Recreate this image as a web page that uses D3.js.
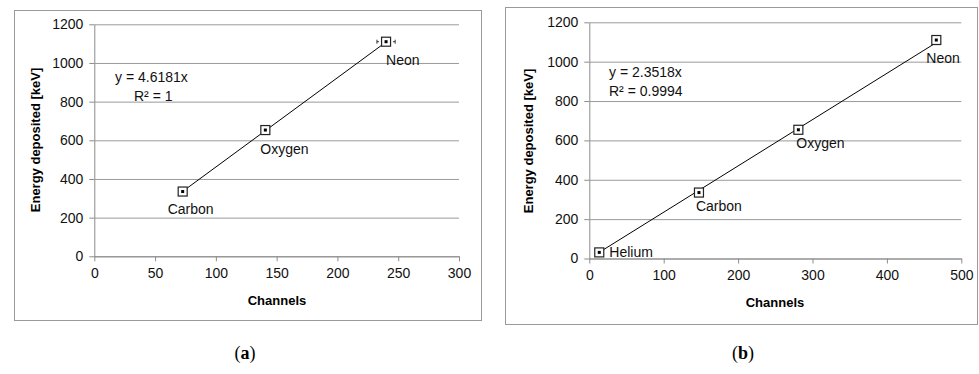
<!DOCTYPE html>
<html>
<head>
<meta charset="utf-8">
<script src="https://cdn.jsdelivr.net/npm/d3@7"></script>
<style>
  body { margin: 0; background: #fff; }
  svg { display: block; font-family: "Liberation Sans", Arial, sans-serif; }
</style>
</head>
<body>
<svg id="chart" width="979" height="374"></svg>
<script>
// donnees
const ionsA = ['Carbon', 'Oxygen', 'Neon'];
const channelsA = [72.7, 140.7, 240];
const energyA = [335, 653, 1110];
const slopeA = 4.6181;
const fitTextA = ['y = 4.6181x', 'R² = 1'];
const xTicksA = [0, 50, 100, 150, 200, 250, 300];

const ionsB = ['Helium', 'Carbon', 'Oxygen', 'Neon'];
const channelsB = [13.4, 147.4, 281, 466.4];
const energyB = [31, 335, 654, 1110];
const slopeB = 2.3518;
const fitTextB = ['y = 2.3518x', 'R² = 0.9994'];
const xTicksB = [0, 100, 200, 300, 400, 500];

const yTicks = [0, 200, 400, 600, 800, 1000, 1200];

const svg = d3.select('#chart');
const FONT = '"Liberation Sans", Arial, sans-serif';

function drawPanel(p) {
    const g = svg.append('g');

    // cadre
    g.append('rect')
        .attr('x', p.frame[0] + 0.5).attr('y', p.frame[1] + 0.5)
        .attr('width', p.frame[2]).attr('height', p.frame[3])
        .attr('fill', '#fff').attr('stroke', '#9a9a9a').attr('stroke-width', 1);

    const x = d3.scaleLinear().domain([p.xTicks[0], p.xTicks[p.xTicks.length - 1]]).range([p.left, p.right]);
    const y = d3.scaleLinear().domain([0, 1200]).range([p.bottom, p.top]);

    // grille horizontale + axe Y
    const yAxis = g.append('g')
        .attr('transform', `translate(${p.left},0)`)
        .call(d3.axisLeft(y).tickValues(yTicks).tickFormat(d3.format('d'))
            .tickSize(5).tickSizeOuter(0).tickPadding(6));
    yAxis.select('.domain').attr('stroke', '#8c8c8c');
    yAxis.selectAll('.tick line').attr('stroke', '#8c8c8c');
    yAxis.selectAll('.tick')
        .append('line')
        .attr('x1', 0).attr('x2', p.right - p.left)
        .attr('stroke', '#9a9a9a');
    yAxis.selectAll('text').style('font-family', FONT).style('font-size', '14px').style('fill', '#111');

    const xAxis = g.append('g')
        .attr('transform', `translate(0,${p.bottom})`)
        .call(d3.axisBottom(x).tickValues(p.xTicks).tickFormat(d3.format('d'))
            .tickSize(5).tickSizeOuter(0).tickPadding(7));
    xAxis.select('.domain').attr('stroke', '#8c8c8c');
    xAxis.selectAll('.tick line').attr('stroke', '#8c8c8c');
    xAxis.selectAll('text').style('font-family', FONT).style('font-size', '14px').style('fill', '#111');

    // titres
    g.append('text')
        .attr('x', p.xTitle[0]).attr('y', p.xTitle[1])
        .attr('text-anchor', 'middle')
        .style('font-size', '13px').style('font-weight', 'bold')
        .text('Channels');

    g.append('text')
        .attr('transform', `translate(${p.yTitle[0]},${p.yTitle[1]}) rotate(-90)`)
        .attr('text-anchor', 'middle')
        .style('font-size', '13px').style('font-weight', 'bold')
        .text('Energy deposited [keV]');

    // droite de regression
    const xs = d3.extent(p.channels);
    g.append('line')
        .attr('x1', x(xs[0])).attr('y1', y(p.slope * xs[0]))
        .attr('x2', x(xs[1])).attr('y2', y(p.slope * xs[1]))
        .attr('stroke', '#000').attr('stroke-width', 1);

    const pts = p.ions.map((ion, i) => ({ ion, c: p.channels[i], e: p.energy[i], off: p.labelOffsets[i] }));

    // barre d'erreur (Neon, panneau a)
    if (p.errBar) {
        const d = pts[pts.length - 1];
        g.append('line')
            .attr('x1', x(d.c - p.errBar)).attr('x2', x(d.c + p.errBar))
            .attr('y1', y(d.e)).attr('y2', y(d.e))
            .attr('stroke', '#333').attr('stroke-dasharray', '2,2');
        [-1, 1].forEach(s => {
            g.append('line')
                .attr('x1', x(d.c + s * p.errBar)).attr('x2', x(d.c + s * p.errBar))
                .attr('y1', y(d.e) - 2).attr('y2', y(d.e) + 2)
                .attr('stroke', '#333');
        });
    }

    // marqueurs
    const m = g.selectAll('.pt').data(pts).enter().append('g')
        .attr('transform', d => `translate(${x(d.c)},${y(d.e)})`);
    m.append('rect')
        .attr('x', -4.5).attr('y', -4.5).attr('width', 9).attr('height', 9)
        .attr('fill', '#fff').attr('stroke', '#222').attr('stroke-width', 1.2);
    m.append('rect')
        .attr('x', -1.5).attr('y', -1.5).attr('width', 3).attr('height', 3)
        .attr('fill', '#000');

    // etiquettes
    g.selectAll('.lbl').data(pts).enter().append('text')
        .attr('x', d => x(d.c) + d.off[0])
        .attr('y', d => y(d.e) + d.off[1])
        .attr('dy', '0.35em')
        .style('font-size', '14px').style('fill', '#111')
        .text(d => d.ion);

    // equation
    g.selectAll('.fit').data(p.fitText).enter().append('text')
        .attr('x', (d, i) => p.fitPos[i][0])
        .attr('y', (d, i) => p.fitPos[i][1])
        .attr('dy', '0.35em')
        .style('font-size', '14px').style('fill', '#111')
        .text(d => d);

    // legende (a)/(b)
    const cap = svg.append('text')
        .attr('x', p.caption[0]).attr('y', p.caption[1])
        .attr('text-anchor', 'middle')
        .style('font-family', '"Liberation Serif", "DejaVu Serif", serif')
        .style('font-size', '18px');
    cap.append('tspan').text('(');
    cap.append('tspan').style('font-weight', 'bold').text(p.letter);
    cap.append('tspan').text(')');
}

drawPanel({
    frame: [14, 10, 467, 310],
    left: 94.3, right: 459, top: 24.3, bottom: 256.3,
    ions: ionsA, channels: channelsA, energy: energyA, slope: slopeA,
    xTicks: xTicksA, fitText: fitTextA,
    fitPos: [[115, 77], [134, 96]],
    labelOffsets: [[-15, 18], [-5, 19], [0, 18]],
    errBar: 7.5,
    xTitle: [277, 305], yTitle: [40, 140],
    caption: [245, 359], letter: 'a'
});

drawPanel({
    frame: [505, 7, 472, 317],
    left: 589.3, right: 961.3, top: 22.3, bottom: 258.5,
    ions: ionsB, channels: channelsB, energy: energyB, slope: slopeB,
    xTicks: xTicksB, fitText: fitTextB,
    fitPos: [[609, 72], [609, 91]],
    labelOffsets: [[10, 0], [-3, 14], [-2, 13], [-10, 18]],
    errBar: 0,
    xTitle: [775, 307], yTitle: [533, 141],
    caption: [743, 359], letter: 'b'
});
</script>
</body>
</html>
